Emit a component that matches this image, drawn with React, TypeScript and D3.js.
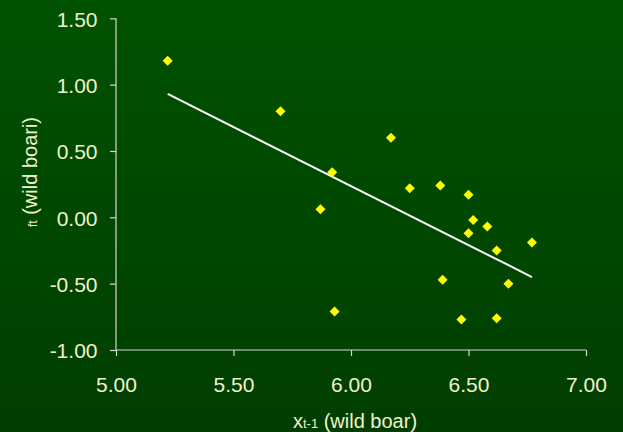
import React, {useEffect, useRef} from 'react'
import * as d3 from 'd3'

// x(t-1) values and r(t) values for the wild boar points
const xPrev = [
  5.22, 5.7, 6.17, 5.92, 5.87, 6.25, 6.38, 6.5, 6.52, 6.58, 6.5, 6.62, 6.77,
  6.39, 6.67, 5.93, 6.47, 6.62,
]
const rGrowth = [
  1.18, 0.8, 0.6, 0.34, 0.06, 0.22, 0.24, 0.17, -0.02, -0.07, -0.12, -0.25,
  -0.19, -0.47, -0.5, -0.71, -0.77, -0.76,
]
// fitted line end points
const fitX = [5.22, 6.77]
const fitY = [0.93, -0.45]

const xTicks = [5, 5.5, 6, 6.5, 7]
const yTicks = [-1, -0.5, 0, 0.5, 1, 1.5]

const W = 623
const H = 432
const FONT = '"Liberation Sans", Arial, sans-serif'
const LABEL = '#f2f2c8'
const AXIS = '#d6d6d6'

// plain hyphen for negatives, like the original
const fmt = (d: d3.NumberValue) => (+d).toFixed(2)

export default function App() {
  const ref = useRef<SVGSVGElement>(null)

  useEffect(() => {
    const svg = d3.select(ref.current)
    svg.selectAll('*').remove()

    const x = d3.scaleLinear().domain([5, 7]).range([116, 586])
    const y = d3.scaleLinear().domain([-1, 1.5]).range([350, 18.3])

    const defs = svg.append('defs')
    const grad = defs
      .append('linearGradient')
      .attr('id', 'bg')
      .attr('x1', 0)
      .attr('y1', 0)
      .attr('x2', 0)
      .attr('y2', 1)
    grad.append('stop').attr('offset', '0%').attr('stop-color', '#005200')
    grad.append('stop').attr('offset', '100%').attr('stop-color', '#003e00')

    svg
      .append('rect')
      .attr('width', W)
      .attr('height', H)
      .attr('fill', 'url(#bg)')

    // axes
    const yAxis = svg
      .append('g')
      .attr('transform', `translate(${x(5)},0)`)
      .call(
        d3
          .axisLeft(y)
          .tickValues(yTicks)
          .tickSize(6)
          .tickPadding(12.5)
          .tickFormat(fmt)
      )
    const xAxis = svg
      .append('g')
      .attr('transform', `translate(0,${y(-1)})`)
      .call(
        d3
          .axisBottom(x)
          .tickValues(xTicks)
          .tickSize(6)
          .tickPadding(21)
          .tickFormat(fmt)
      )

    for (const g of [yAxis, xAxis]) {
      g.select('.domain').attr('stroke', AXIS).attr('stroke-width', 1.2)
      g.selectAll('.tick line').attr('stroke', AXIS).attr('stroke-width', 1.2)
      g.selectAll('.tick text')
        .attr('fill', LABEL)
        .style('font-family', FONT)
        .style('font-size', '21px')
    }
    yAxis.selectAll('.tick text').attr('dy', '0.38em')
    // flat domain ends, no outer tick caps
    yAxis
      .select('.domain')
      .attr('d', `M0,${y(1.5)}V${y(-1)}`)
    xAxis
      .select('.domain')
      .attr('d', `M${x(5)},0H${x(7)}`)

    // fitted line
    const line = d3
      .line<number>()
      .x((d, i) => x(fitX[i]))
      .y((d) => y(d))
    svg
      .append('path')
      .attr('d', line(fitY))
      .attr('fill', 'none')
      .attr('stroke', '#ffffff')
      .attr('stroke-width', 2)

    // diamonds
    const diamond = d3.symbol().type(d3.symbolSquare).size(50)
    svg
      .append('g')
      .selectAll('path')
      .data(xPrev)
      .enter()
      .append('path')
      .attr('d', diamond)
      .attr(
        'transform',
        (d, i) => `translate(${x(d)},${y(rGrowth[i])}) rotate(45)`
      )
      .attr('fill', '#ffff00')

    // axis titles
    const xt = svg
      .append('text')
      .attr('x', 355)
      .attr('y', 427.5)
      .attr('text-anchor', 'middle')
      .attr('fill', LABEL)
      .style('font-family', FONT)
      .style('font-size', '20px')
    xt.append('tspan').text('x')
    xt.append('tspan').style('font-size', '13px').text('t-1')
    xt.append('tspan').text(' (wild boar)')

    const yt = svg
      .append('text')
      .attr('transform', 'translate(37,172) rotate(-90)')
      .attr('text-anchor', 'middle')
      .attr('fill', LABEL)
      .style('font-family', FONT)
      .style('font-size', '20px')
    yt.append('tspan').style('font-size', '12px').text('ft')
    yt.append('tspan').text(' (wild boari)')
  }, [])

  return (
    <div style={{position: 'absolute', left: 0, top: 0}}>
      <svg ref={ref} width={W} height={H} style={{display: 'block'}} />
    </div>
  )
}
